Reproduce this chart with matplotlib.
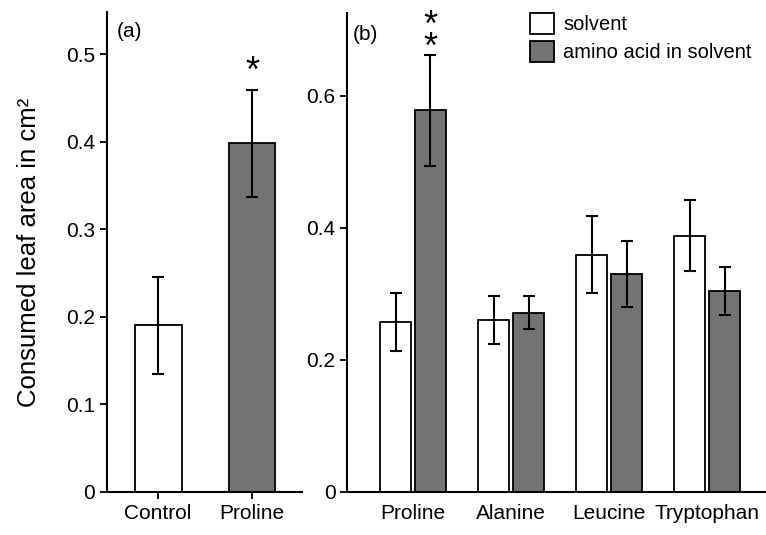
import matplotlib.pyplot as plt
import numpy as np

plt.rcParams['font.family'] = ['Liberation Sans', 'DejaVu Sans']

# panel (a)
cat_a = ["Control", "Proline"]
val_a = [0.19, 0.398]
err_a = [0.055, 0.061]

# panel (b)
cat_b = ["Proline", "Alanine", "Leucine", "Tryptophan"]
solvent = [0.257, 0.260, 0.359, 0.388]
solvent_err = [0.044, 0.036, 0.058, 0.054]
amino = [0.578, 0.271, 0.330, 0.304]
amino_err = [0.084, 0.025, 0.050, 0.037]

grey = "#737373"

fig = plt.figure(figsize=(7.66, 5.35), dpi=100)
ax1 = fig.add_axes([0.1397, 0.0809, 0.2542, 0.8966])
ax2 = fig.add_axes([0.4534, 0.0809, 0.5466, 0.8948])

ekw = dict(elinewidth=1.5, capsize=4.5, capthick=1.5, ecolor="black")

for ax in (ax1, ax2):
    for s in ("top", "right"):
        ax.spines[s].set_visible(False)
    for s in ("left", "bottom"):
        ax.spines[s].set_linewidth(1.5)
    ax.tick_params(labelsize=15, width=1.3, length=5)

x_a = np.arange(len(cat_a))
ax1.bar(x_a, val_a, width=0.5, color=["white", grey], edgecolor="black",
        linewidth=1.3, yerr=err_a, error_kw=ekw)
ax1.set_xlim(-0.545, 1.53)
ax1.set_ylim(0, 0.548)
ax1.set_yticks([0, 0.1, 0.2, 0.3, 0.4, 0.5])
ax1.set_yticklabels(["0", "0.1", "0.2", "0.3", "0.4", "0.5"])
ax1.set_xticks(x_a)
ax1.set_xticklabels(cat_a)
ax1.tick_params(axis="x", pad=4)
ax1.text(0.05, 0.96, "(a)", transform=ax1.transAxes, fontsize=15, va="center")
ax1.text(1, 0.479, "*", fontsize=26, ha="center", va="center")
ax1.set_ylabel("Consumed leaf area in cm²", fontsize=18.5, labelpad=18)

x_b = np.arange(len(cat_b))
off = 0.178
w = 0.32
ax2.bar(x_b - off, solvent, width=w, color="white", edgecolor="black",
        linewidth=1.3, yerr=solvent_err, error_kw=ekw, label="solvent")
ax2.bar(x_b + off, amino, width=w, color=grey, edgecolor="black",
        linewidth=1.3, yerr=amino_err, error_kw=ekw, label="amino acid in solvent")
ax2.set_xlim(-0.67, 3.6)
ax2.set_ylim(0, 0.725)
ax2.set_yticks([0, 0.2, 0.4, 0.6])
ax2.set_yticklabels(["0", "0.2", "0.4", "0.6"])
ax2.set_xticks(x_b)
ax2.set_xticklabels(cat_b)
ax2.tick_params(axis="x", length=0, pad=9)
ax2.text(0.012, 0.955, "(b)", transform=ax2.transAxes, fontsize=15, va="center")
# two stacked stars as one text
ax2.text(off, 0.688, "*\n*", fontsize=26, ha="center", va="center",
         linespacing=0.5)
ax2.legend(loc="upper left", bbox_to_anchor=(0.436, 1.0), frameon=False,
           fontsize=14.5, handlelength=1.2, handleheight=1.2, handletextpad=0.45,
           labelspacing=0.35, borderaxespad=0, borderpad=0)

fig.savefig("out.png", dpi=100)
